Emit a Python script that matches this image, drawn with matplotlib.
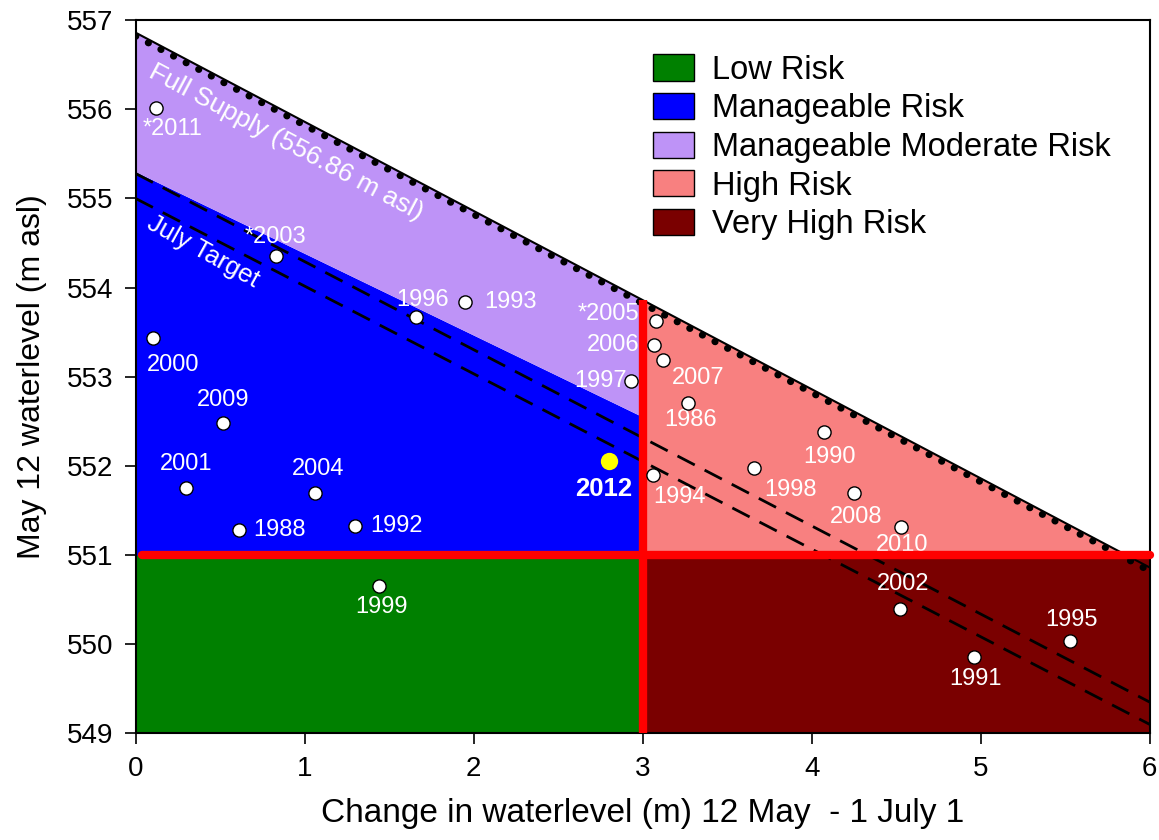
import matplotlib
matplotlib.use('Agg')
import matplotlib.pyplot as plt
import matplotlib.patches as mpatches
import matplotlib.transforms as mtransforms
import numpy as np

plt.rcParams['font.family'] = ['Liberation Sans', 'DejaVu Sans']

# reference lines (m asl)
full_supply_x = [0, 6]
full_supply_y = [556.86, 550.86]
manageable_x = [0, 3]
manageable_y = [555.30, 552.55]
july_x = [0, 6]
july_upper = [555.28, 549.35]
july_lower = [555.00, 549.10]
level_threshold = 551.0
change_threshold = 3.0
y_min, y_max = 549, 557
x_min, x_max = 0, 6

# historical years: change (m) vs May 12 level (m asl)
years = ['*2011', '*2003', '1996', '1993', '2000', '2009', '2001', '2004',
         '1988', '1992', '1999', '*2005', '2006', '1997', '2007', '1986',
         '1994', '1998', '1990', '2008', '2010', '2002', '1991', '1995']
change = [0.12, 0.83, 1.66, 1.95, 0.10, 0.52, 0.30, 1.06,
          0.61, 1.30, 1.44, 3.08, 3.07, 2.93, 3.12, 3.27,
          3.06, 3.66, 4.07, 4.25, 4.53, 4.52, 4.96, 5.53]
level = [556.02, 554.35, 553.67, 553.84, 553.44, 552.48, 551.75, 551.70,
         551.28, 551.33, 550.65, 553.63, 553.36, 552.95, 553.19, 552.71,
         551.90, 551.98, 552.38, 551.70, 551.31, 550.40, 549.86, 550.04]
# label offsets in pixels (dx, dy; dy up)
label_offsets = [(17, -21), (0, 19), (6, 17), (45, 0), (21, -27), (0, 23),
                 (0, 24), (3, 24), (41, 0), (41, 0), (3, -21), (-48, 7),
                 (-41, 0), (-30, 0), (35, -18), (2, -17), (27, -22),
                 (36, -22), (6, -25), (2, -24), (1, -18), (4, 25),
                 (2, -22), (1, 21)]

current_year = '2012'
current_change = 2.80
current_level = 552.06

risk_names = ['Low Risk', 'Manageable Risk', 'Manageable Moderate Risk',
              'High Risk', 'Very High Risk']
risk_colors = ['#008000', '#0000FF', '#BE93F7', '#F88080', '#7A0000']

fig = plt.figure(figsize=(11.59, 8.40), dpi=100)
ax = fig.add_axes([0.117, 0.127, 0.875, 0.849])

# risk zones
left_x = np.array([x_min, change_threshold])
fs_left = np.interp(left_x, full_supply_x, full_supply_y)
# where the full supply line drops to the 551 threshold
x_cross = np.interp(level_threshold, full_supply_y[::-1], full_supply_x[::-1])
high_x = np.array([change_threshold, x_cross])
fs_high = np.interp(high_x, full_supply_x, full_supply_y)

ax.fill_between(left_x, y_min, level_threshold, color=risk_colors[0], lw=0)
ax.fill_between(manageable_x, level_threshold, manageable_y, color=risk_colors[1], lw=0)
ax.fill_between(left_x, manageable_y, fs_left, color=risk_colors[2], lw=0)
ax.fill_between(high_x, level_threshold, fs_high, color=risk_colors[3], lw=0)
ax.fill_between([change_threshold, x_max], y_min, level_threshold, color=risk_colors[4], lw=0)

# full supply line (solid + dotted just beneath)
ax.plot(full_supply_x, full_supply_y, color='black', lw=1.5, zorder=4)
dot_trans = mtransforms.offset_copy(ax.transData, fig=fig, y=-3.5, units='dots')
ax.plot(full_supply_x, full_supply_y, color='black', lw=5,
        linestyle=(0, (0.05, 2.0)), dash_capstyle='round',
        transform=dot_trans, zorder=4)

# july target dashed lines
ax.plot(july_x, july_upper, color='black', lw=2, dashes=[7, 4], zorder=4)
ax.plot(july_x, july_lower, color='black', lw=2, dashes=[7, 4], zorder=4)

# thresholds
ax.plot([0.04, x_max], [level_threshold, level_threshold], color='#FF0000',
        lw=6, solid_capstyle='round', zorder=5, clip_on=False)
ax.plot([change_threshold, change_threshold],
        [y_min, np.interp(change_threshold, full_supply_x, full_supply_y)],
        color='#FF0000', lw=6, solid_capstyle='butt', zorder=5)

# years
ax.plot(change, level, 'o', ms=9.5, mfc='white', mec='black', mew=1, zorder=6)
for yr, cx, ly, off in zip(years, change, level, label_offsets):
    ax.annotate(yr, (cx, ly), xytext=off, textcoords='offset pixels',
                ha='center', va='center', color='white', fontsize=17, zorder=4.5)

ax.plot([current_change], [current_level], 'o', ms=12.5, color='#FFFF00', mec='none', zorder=6)
ax.annotate(current_year, (current_change, current_level), xytext=(-5, -28),
            textcoords='offset pixels', ha='center', va='center', color='white',
            fontsize=18.5, fontweight='bold', zorder=6)

ax.text(0.89, 555.63, 'Full Supply (556.86 m asl)', rotation=-28, color='white',
        fontsize=19, ha='center', va='center', rotation_mode='anchor', zorder=4.5)
ax.text(0.40, 554.40, 'July Target', rotation=-29, color='white',
        fontsize=18.5, ha='center', va='center', rotation_mode='anchor', zorder=4.5)

ax.set_xlim(x_min, x_max)
ax.set_ylim(y_min, y_max)
ax.set_xticks(range(x_min, x_max + 1))
ax.set_yticks(range(y_min, y_max + 1))
ax.tick_params(direction='out', length=8, width=1.2, labelsize=20, pad=8)
for s in ax.spines.values():
    s.set_linewidth(1.5)
ax.set_xlabel('Change in waterlevel (m) 12 May  - 1 July 1', fontsize=24, labelpad=12)
ax.set_ylabel('May 12 waterlevel (m asl)', fontsize=23, labelpad=14)

handles = [mpatches.Patch(facecolor=c, edgecolor='black', lw=1) for c in risk_colors]
ax.legend(handles, risk_names, loc='upper left', bbox_to_anchor=(0.510, 0.952),
          frameon=False, fontsize=23.5, handlelength=1.26, handleheight=0.86,
          labelspacing=0.22, handletextpad=0.55, borderpad=0, borderaxespad=0)

fig.savefig('out.png', dpi=100)
